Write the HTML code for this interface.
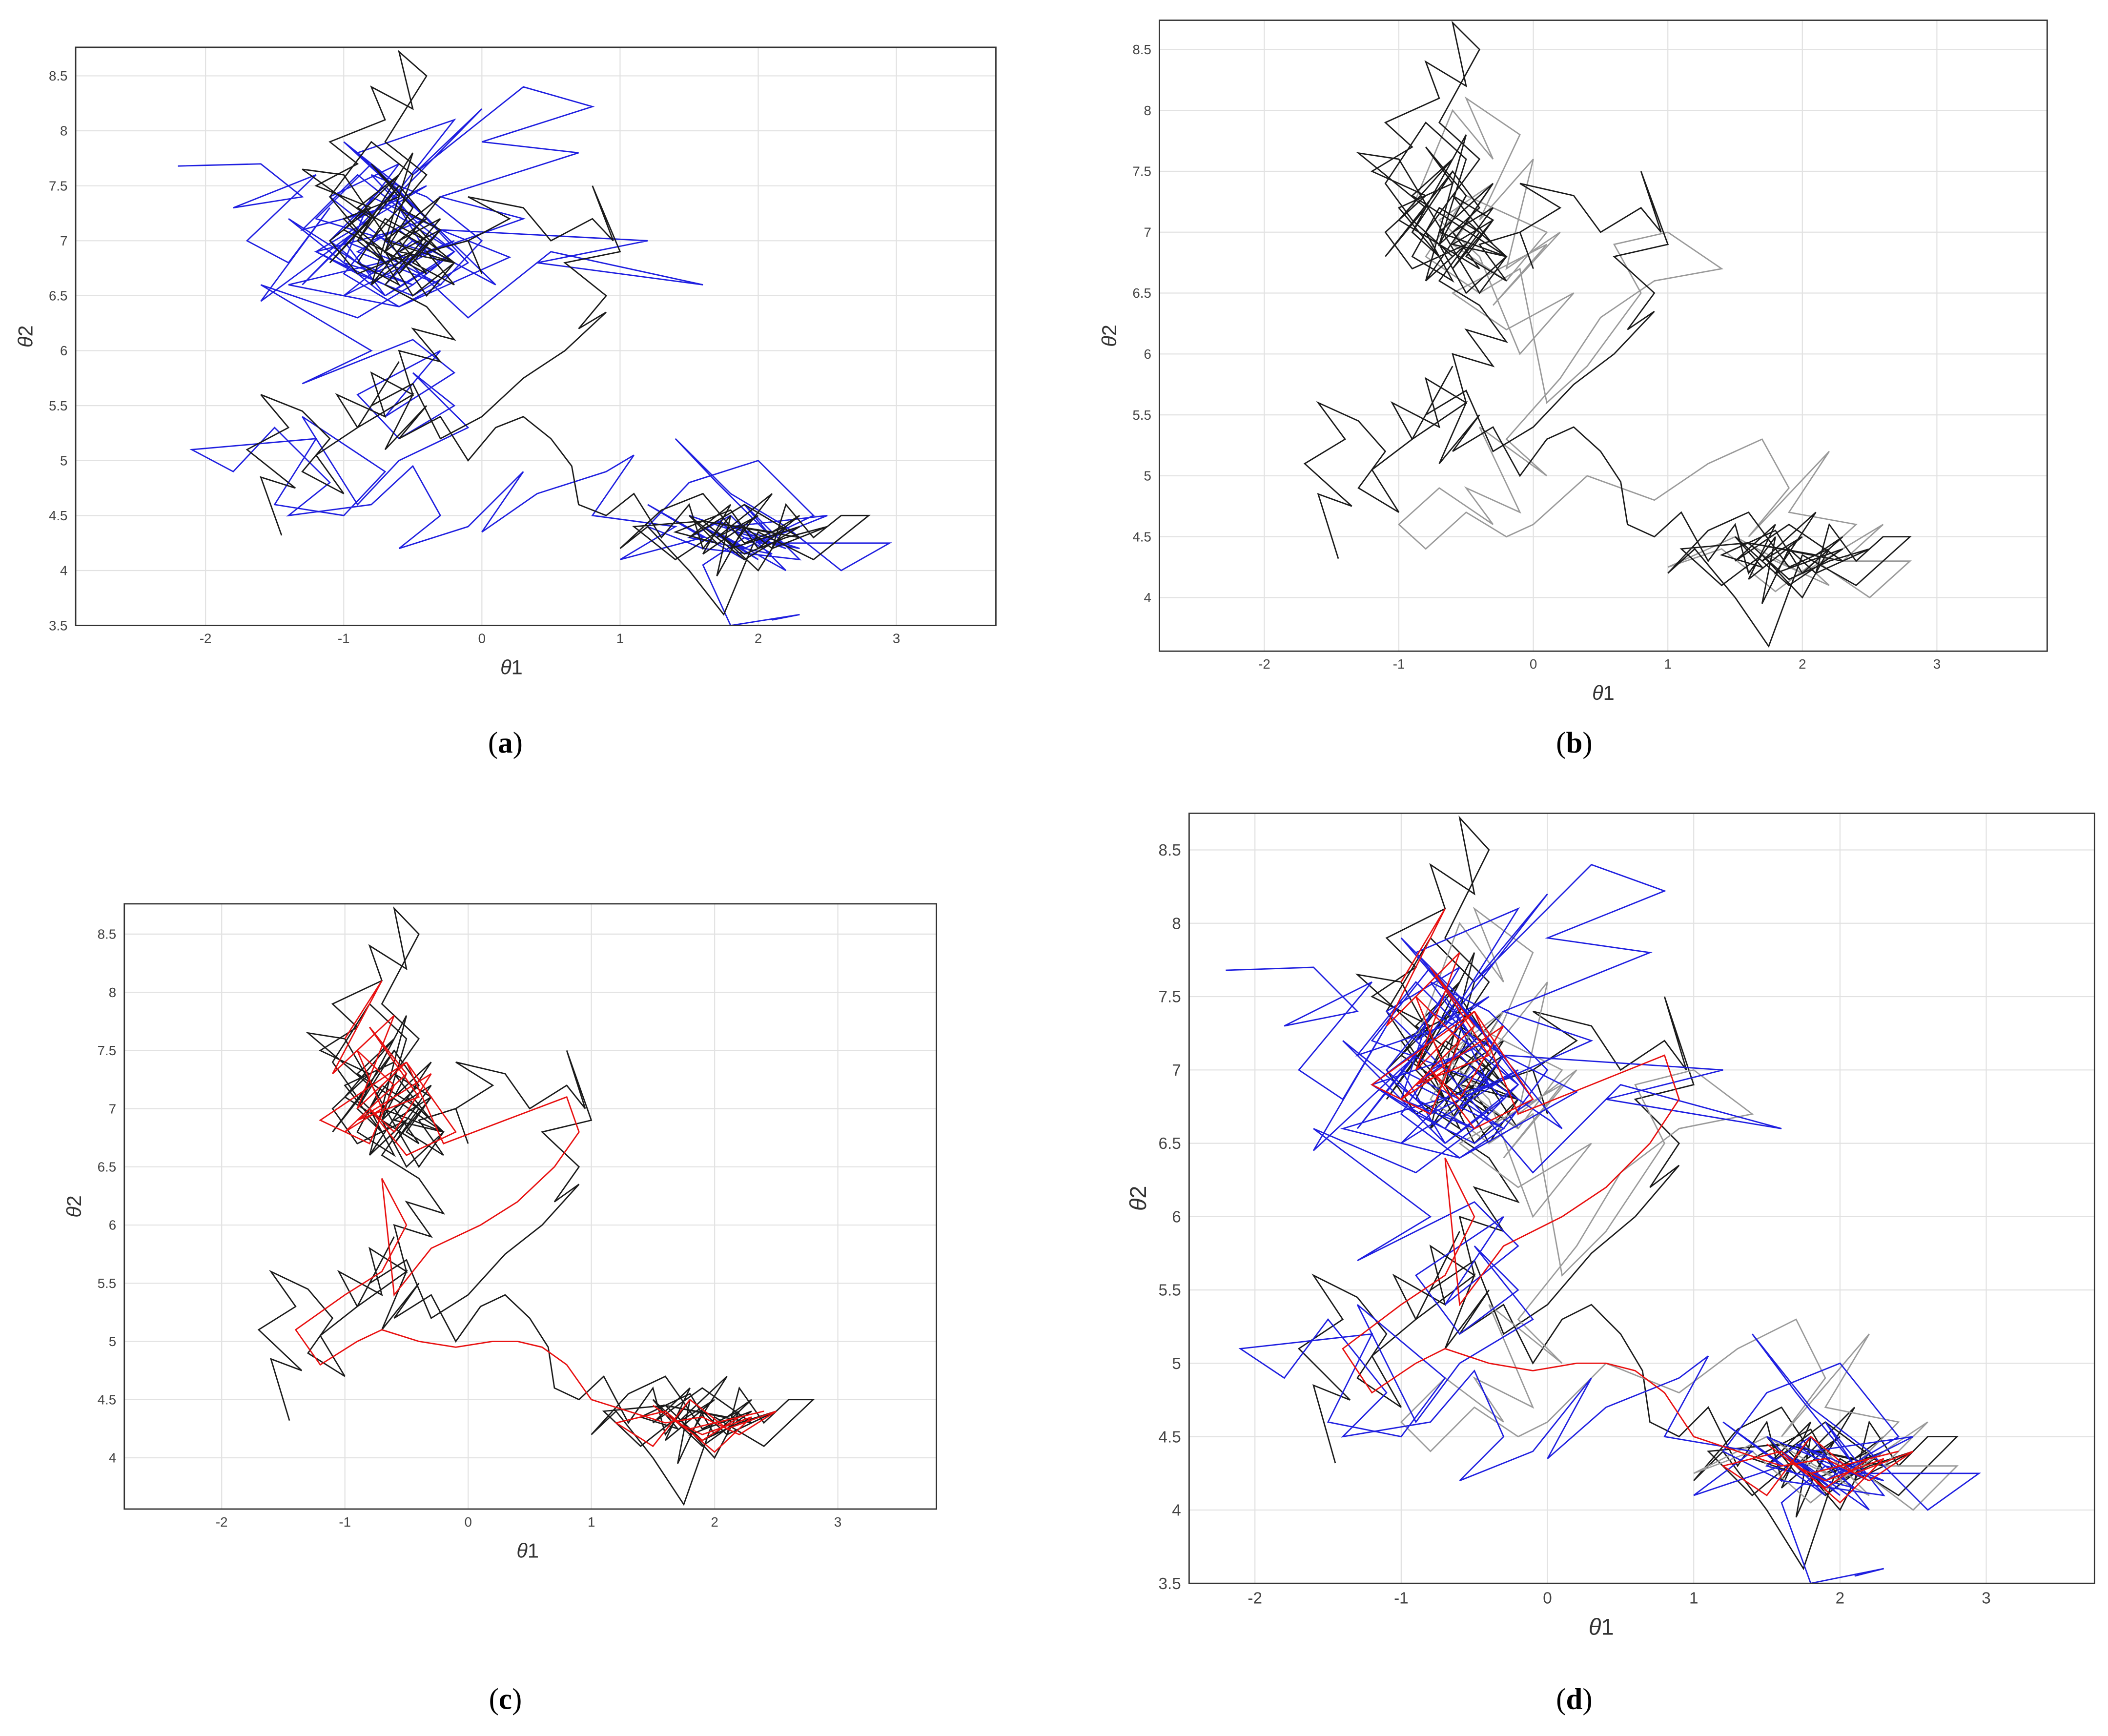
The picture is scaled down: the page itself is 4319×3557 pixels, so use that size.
<!DOCTYPE html>
<html><head><meta charset="utf-8">
<style>
html,body{margin:0;padding:0;background:#fff;}
svg{display:block;}
text{font-family:"Liberation Sans",sans-serif;}
</style></head>
<body>
<svg id="fig" width="4319" height="3557" viewBox="0 0 1560 1285" preserveAspectRatio="none" xmlns="http://www.w3.org/2000/svg">
<rect x="0" y="0" width="1560" height="1285" fill="#fff"/>
</svg>
<script>
// ---- data: trajectories (theta1, theta2) ----
const blackX=[-1.45,-1.6,-1.35,-1.7,-1.4,-1.6,-1.3,-1.1,-1.3,-1.0,-1.2,-0.9,-1.05,-0.7,-0.8,-0.5,-0.6,-0.3,-0.5,-0.2,-0.4,-0.7,-0.5,-0.9,-1.1,-0.8,-1.2,-0.9,-1.1,-0.7,-0.8,-0.5,-0.6,-0.4,-0.7,-0.4,-0.6,-0.3,-0.6,-0.2,-0.4,-1.0,-1.3,-0.8,-1.1,-0.6,-0.9,-0.5,-0.8,-0.3,-0.7,-0.2,
 -0.9,-0.6,-1.0,-0.7,-0.5,-0.8,-0.6,-1.0,-0.7,-0.9,-0.6,-0.4,-0.7,-0.5,-0.8,-1.1,-0.9,-0.6,-0.8,-0.5,-0.3,-0.6,-0.4,-0.7,-0.5,-0.2,-0.5,-0.3,-0.6,-0.8,-0.6,-0.9,-0.7,-0.4,-0.6,-0.3,-0.5,-0.2,-0.4,-0.1,
 0.0,-0.1,0.2,-0.1,0.3,0.5,0.8,0.95,0.8,1.0,0.6,0.9,0.7,0.9,0.6,0.3,0.0,-0.3,-0.5,-0.8,-0.6,-0.9,-0.5,-0.7,-0.4,-0.6,-0.3,-0.1,0.1,0.3,0.5,0.65,0.7,0.9,1.1,1.3,1.5,1.6,1.8,1.7,1.9,2.1,2.2,2.4,2.6,2.8,2.4,2.0,1.75,1.5,1.2,1.0,1.3,1.6,1.9,2.2,2.0,1.7,1.4,1.1,1.6,2.3,1.9,
 1.5,1.8,1.6,2.0,1.7,2.1,1.8,2.3,1.9,1.5,1.7,1.4,1.8,2.0,2.3,2.1,1.6,1.9,2.2,2.5,2.1];
const blackY=[4.32,4.85,4.75,5.1,5.3,5.6,5.45,5.2,4.9,4.7,5.05,5.3,5.6,5.4,5.8,5.6,6.0,5.9,6.2,6.1,6.4,6.6,6.9,6.7,7.0,7.3,7.5,7.7,7.9,8.1,8.4,8.2,8.72,8.5,7.9,7.6,7.3,7.1,6.9,6.8,6.5,7.6,7.65,7.2,6.8,7.5,7.0,7.8,6.6,7.4,7.0,6.8,
 7.3,7.6,7.1,6.9,7.3,7.7,7.4,7.2,6.8,7.0,7.5,7.2,6.9,7.6,7.9,7.4,7.1,6.8,6.6,6.9,7.2,7.0,6.7,6.9,6.5,6.8,7.1,6.9,7.3,7.0,6.6,6.8,7.2,7.0,6.7,7.1,6.8,6.6,6.9,7.0,
 6.7,7.0,7.2,7.4,7.3,7.0,7.2,7.0,7.5,6.9,6.8,6.5,6.2,6.35,6.0,5.75,5.4,5.2,5.7,5.5,5.9,5.3,5.6,5.1,5.5,5.2,5.4,5.0,5.3,5.4,5.2,4.95,4.6,4.5,4.7,4.3,4.6,4.2,4.5,3.95,4.4,4.2,4.6,4.3,4.5,4.5,4.1,4.35,3.6,4.0,4.4,4.2,4.55,4.7,4.25,4.4,4.0,4.35,4.1,4.4,4.45,4.3,4.6,
 4.3,4.6,4.15,4.5,4.3,4.7,4.2,4.4,4.1,4.5,4.25,4.35,4.55,4.2,4.5,4.35,4.45,4.15,4.3,4.4,4.2];
const blueX=[-2.2,-1.6,-1.3,-1.8,-1.2,-1.7,-1.4,-1.1,-1.6,-0.9,-1.3,-0.6,-1.0,-0.4,-0.9,-0.2,-0.7,0.0,-0.5,0.3,0.8,0.0,0.7,-0.3,0.3,-0.6,-0.2,-1.0,-0.5,0.1,-0.8,-1.2,-0.4,-1.4,-0.6,0.2,-0.3,1.2,0.4,1.6,0.5,-0.1,
 -0.7,-1.1,-0.6,-0.9,-0.4,-1.2,-0.7,-0.3,-0.8,-1.0,-0.5,-0.2,-0.7,-1.3,-0.9,-0.6,-0.4,-0.8,-1.1,-0.7,-0.5,-0.9,-0.3,-0.6,-1.0,-0.8,-0.4,-0.1,-0.5,-0.9,-1.2,-0.6,-0.3,-0.7,-0.2,-0.5,-0.8,-0.4,0.0,-0.3,-0.6,-1.0,-0.7,-1.4,-0.9,-0.5,
 -0.9,-1.6,-0.8,-1.3,-0.5,-0.2,-0.7,-0.3,-0.9,-0.6,-0.2,-0.5,-0.1,-0.6,-0.9,-1.3,-0.7,-1.0,-1.5,-1.2,-2.1,-1.8,-1.5,-1.1,-1.4,-0.8,-0.5,-0.3,-0.6,-0.1,0.3,0.0,0.4,0.9,1.1,0.8,1.4,1.0,1.6,1.2,1.9,1.5,2.2,1.8,2.5,2.0,2.95,2.6,2.2,1.8,1.4,1.7,2.1,1.9,2.3,1.6,1.2,1.5,2.0,2.4,
 1.9,1.6,2.0,1.7,2.2,1.8,1.5,2.1,1.7,2.3,1.9,1.6,1.8,2.3,2.1];
const blueY=[7.68,7.7,7.4,7.3,7.6,7.0,6.8,7.3,6.45,7.1,6.6,7.5,7.9,7.2,7.8,8.1,7.3,8.2,7.6,8.4,8.22,7.9,7.8,7.4,7.2,6.8,7.0,6.5,7.0,6.6,7.7,7.2,6.9,6.6,6.4,6.85,7.1,7.0,6.8,6.6,6.9,6.3,
 7.0,7.4,7.7,7.2,7.5,6.9,6.6,7.1,7.4,6.8,6.6,6.9,7.3,7.1,7.6,7.3,6.9,6.7,7.0,7.5,7.2,6.9,6.6,6.4,6.7,7.0,7.2,6.8,6.5,6.7,6.9,7.1,6.8,6.5,6.9,7.2,7.6,7.4,7.0,6.6,6.8,7.0,6.5,7.2,6.8,6.6,
 6.3,6.6,6.0,5.7,6.1,5.8,5.4,6.0,5.6,5.2,5.5,5.8,5.3,5.0,4.6,5.4,4.9,4.5,4.6,5.2,5.1,4.9,5.3,4.8,4.5,4.6,4.95,4.5,4.2,4.4,4.9,4.35,4.7,4.9,5.05,4.5,4.4,4.1,4.3,4.6,4.1,4.5,4.2,4.4,4.5,4.25,4.25,4.0,4.4,4.7,5.2,4.8,4.3,4.6,4.1,4.2,4.4,4.8,5.0,4.5,
 4.2,4.4,4.1,4.35,4.0,4.5,4.3,4.15,4.45,4.2,4.3,4.05,3.5,3.6,3.55];
const grayX=[-0.9,-0.6,-0.3,-0.5,-0.1,-0.4,0.0,-0.2,0.2,-0.3,0.1,-0.6,-0.2,0.3,-0.1,-0.4,-0.7,-0.3,-0.6,-0.2,0.1,-0.5,-0.8,-0.4,-0.1,0.1,0.4,0.8,0.6,1.0,1.4,0.9,0.5,0.2,-0.2,0.1,-0.4,-0.1,-0.5,-0.3,-0.7,-1.0,-0.8,-0.5,-0.2,0.0,0.4,0.9,1.3,1.7,1.9,1.6,2.2,1.9,2.4,2.0,2.6,2.3,2.8,2.5,2.1,1.8,1.4,1.0,1.5,2.0,1.7,2.2,1.9];
const grayY=[7.2,8.0,7.6,8.1,7.8,7.1,7.6,6.7,7.0,6.4,6.9,6.5,6.2,6.5,6.0,6.8,7.1,7.4,6.9,6.6,7.0,7.3,6.8,6.5,6.7,5.6,5.9,6.5,6.9,7.0,6.7,6.6,6.3,5.8,5.3,5.0,5.4,4.7,4.9,4.6,4.9,4.6,4.4,4.7,4.5,4.6,5.0,4.8,5.1,5.3,4.9,4.5,5.2,4.7,4.6,4.2,4.6,4.3,4.3,4.0,4.3,4.05,4.4,4.25,4.5,4.2,4.35,4.1,4.4];
const redX=[-1.0,-0.7,-1.1,-0.6,-0.9,-0.5,-1.2,-0.8,-0.6,-0.9,-0.7,-1.0,-0.5,-0.8,-0.4,-0.9,-0.3,-0.6,-0.8,-0.5,-0.1,-0.5,-0.2,0.3,0.8,0.9,0.7,0.4,0.1,-0.3,-0.6,-0.7,-0.5,-0.7,-1.0,-1.4,-1.2,-0.9,-0.7,-0.4,-0.1,0.2,0.4,0.6,0.8,1.0,1.3,1.6,1.9,2.2,2.5,2.1,1.8,1.5,1.2,1.6,2.0,2.3,1.9,1.7,1.5,1.9,2.2,1.8,2.4];
const redY=[7.6,8.1,7.3,7.8,7.0,7.4,6.9,6.7,7.2,7.5,7.0,6.8,7.3,7.7,7.1,6.9,7.3,6.8,7.0,6.6,6.8,7.4,6.7,6.9,7.1,6.8,6.5,6.2,6.0,5.8,5.4,6.4,6.0,5.6,5.4,5.1,4.8,5.0,5.1,5.0,4.95,5.0,5.0,4.95,4.8,4.5,4.4,4.3,4.35,4.2,4.4,4.25,4.5,4.1,4.3,4.4,4.05,4.35,4.2,4.3,4.45,4.15,4.35,4.25,4.4];
const xTicks=[-2,-1,0,1,2,3];
const yTicksA=[3.5,4,4.5,5,5.5,6,6.5,7,7.5,8,8.5];
const yTicksB=[4,4.5,5,5.5,6,6.5,7,7.5,8,8.5];

const NS='http://www.w3.org/2000/svg';
const svg=document.getElementById('fig');
function mk(tag,attrs,parent){const e=document.createElementNS(NS,tag);for(const k in attrs)e.setAttribute(k,attrs[k]);(parent||svg).appendChild(e);return e;}

const panels=[
 {id:'a',x0:56,x1:737,y0:35,y1:463,xl:[-2.94,3.72],yl:[3.5,8.76],yt:yTicksA,fs:10,lf:15,series:['blue','black'],cap:[374,557],xo:18},
 {id:'b',x0:858,x1:1515,y0:15,y1:482,xl:[-2.78,3.82],yl:[3.56,8.74],yt:yTicksB,fs:10,lf:15,series:['gray','black'],cap:[1165,557],xo:0},
 {id:'c',x0:92,x1:693,y0:669,y1:1117,xl:[-2.79,3.8],yl:[3.56,8.76],yt:yTicksB,fs:10,lf:15,series:['black','red'],cap:[374,1265],xo:2},
 {id:'d',x0:880,x1:1550,y0:602,y1:1172,xl:[-2.45,3.74],yl:[3.5,8.75],yt:yTicksA,fs:12,lf:17,series:['black','gray','blue','red'],cap:[1165,1265],xo:30}
];
const S={black:[blackX,blackY,'#1a1a1a'],blue:[blueX,blueY,'#1f1fe0'],gray:[grayX,grayY,'#9a9a9a'],red:[redX,redY,'#e81010']};

panels.forEach(p=>{
 const g=mk('g',{});
 
 
 const sx=v=>p.x0+(v-p.xl[0])/(p.xl[1]-p.xl[0])*(p.x1-p.x0);
 const sy=v=>p.y1-(v-p.yl[0])/(p.yl[1]-p.yl[0])*(p.y1-p.y0);
 xTicks.forEach(t=>{
  const l=mk('line',{x1:sx(t),x2:sx(t),y1:p.y0,y2:p.y1,stroke:'#e2e2e2','stroke-width':0.8},g);
  
  
  const tx=mk('text',{x:sx(t),y:p.y1+p.fs+3,'font-size':p.fs,'text-anchor':'middle',fill:'#444'},g);
  tx.textContent=t;
  
  
 });
 p.yt.forEach(t=>{
  const l=mk('line',{x1:p.x0,x2:p.x1,y1:sy(t),y2:sy(t),stroke:'#e2e2e2','stroke-width':0.8},g);
  
  
  const tx=mk('text',{x:p.x0-6,y:sy(t)+p.fs*0.35,'font-size':p.fs,'text-anchor':'end',fill:'#444'},g);
  tx.textContent=t;
  
  
 });
 p.series.forEach(k=>{
  const [xs,ys,c]=S[k];
  const pts=xs.map((v,i)=>sx(v).toFixed(1)+','+sy(ys[i]).toFixed(1)).join(' ');
  const pl=mk('polyline',{points:pts,fill:'none',stroke:c,'stroke-width':1,'stroke-linejoin':'miter'},g);
  
  
 });
 const b=mk('rect',{x:p.x0,y:p.y0,width:p.x1-p.x0,height:p.y1-p.y0,fill:'none',stroke:'#333','stroke-width':1},g);
 
 
 const xl=mk('text',{x:(p.x0+p.x1)/2-p.xo,y:p.y1+p.fs+26,'font-size':p.lf,'text-anchor':'middle',fill:'#333'},g);
 xl.innerHTML='<tspan font-style="italic">θ</tspan>1';
 
 
 const yx=p.x0-32, yy=(p.y0+p.y1)/2;
 const yl=mk('text',{x:yx,y:yy,'font-size':p.lf,'text-anchor':'middle',fill:'#333',transform:'rotate(-90 '+yx+' '+yy+')'},g);
 yl.innerHTML='<tspan font-style="italic">θ</tspan>2';
 
 
 const cp=mk('text',{x:p.cap[0],y:p.cap[1],'font-size':22,'text-anchor':'middle',fill:'#000',style:'font-family:"Liberation Serif",serif'},g);
 cp.innerHTML='(<tspan font-weight="bold">'+p.id+'</tspan>)';
 
 
});
</script>
</body></html>
